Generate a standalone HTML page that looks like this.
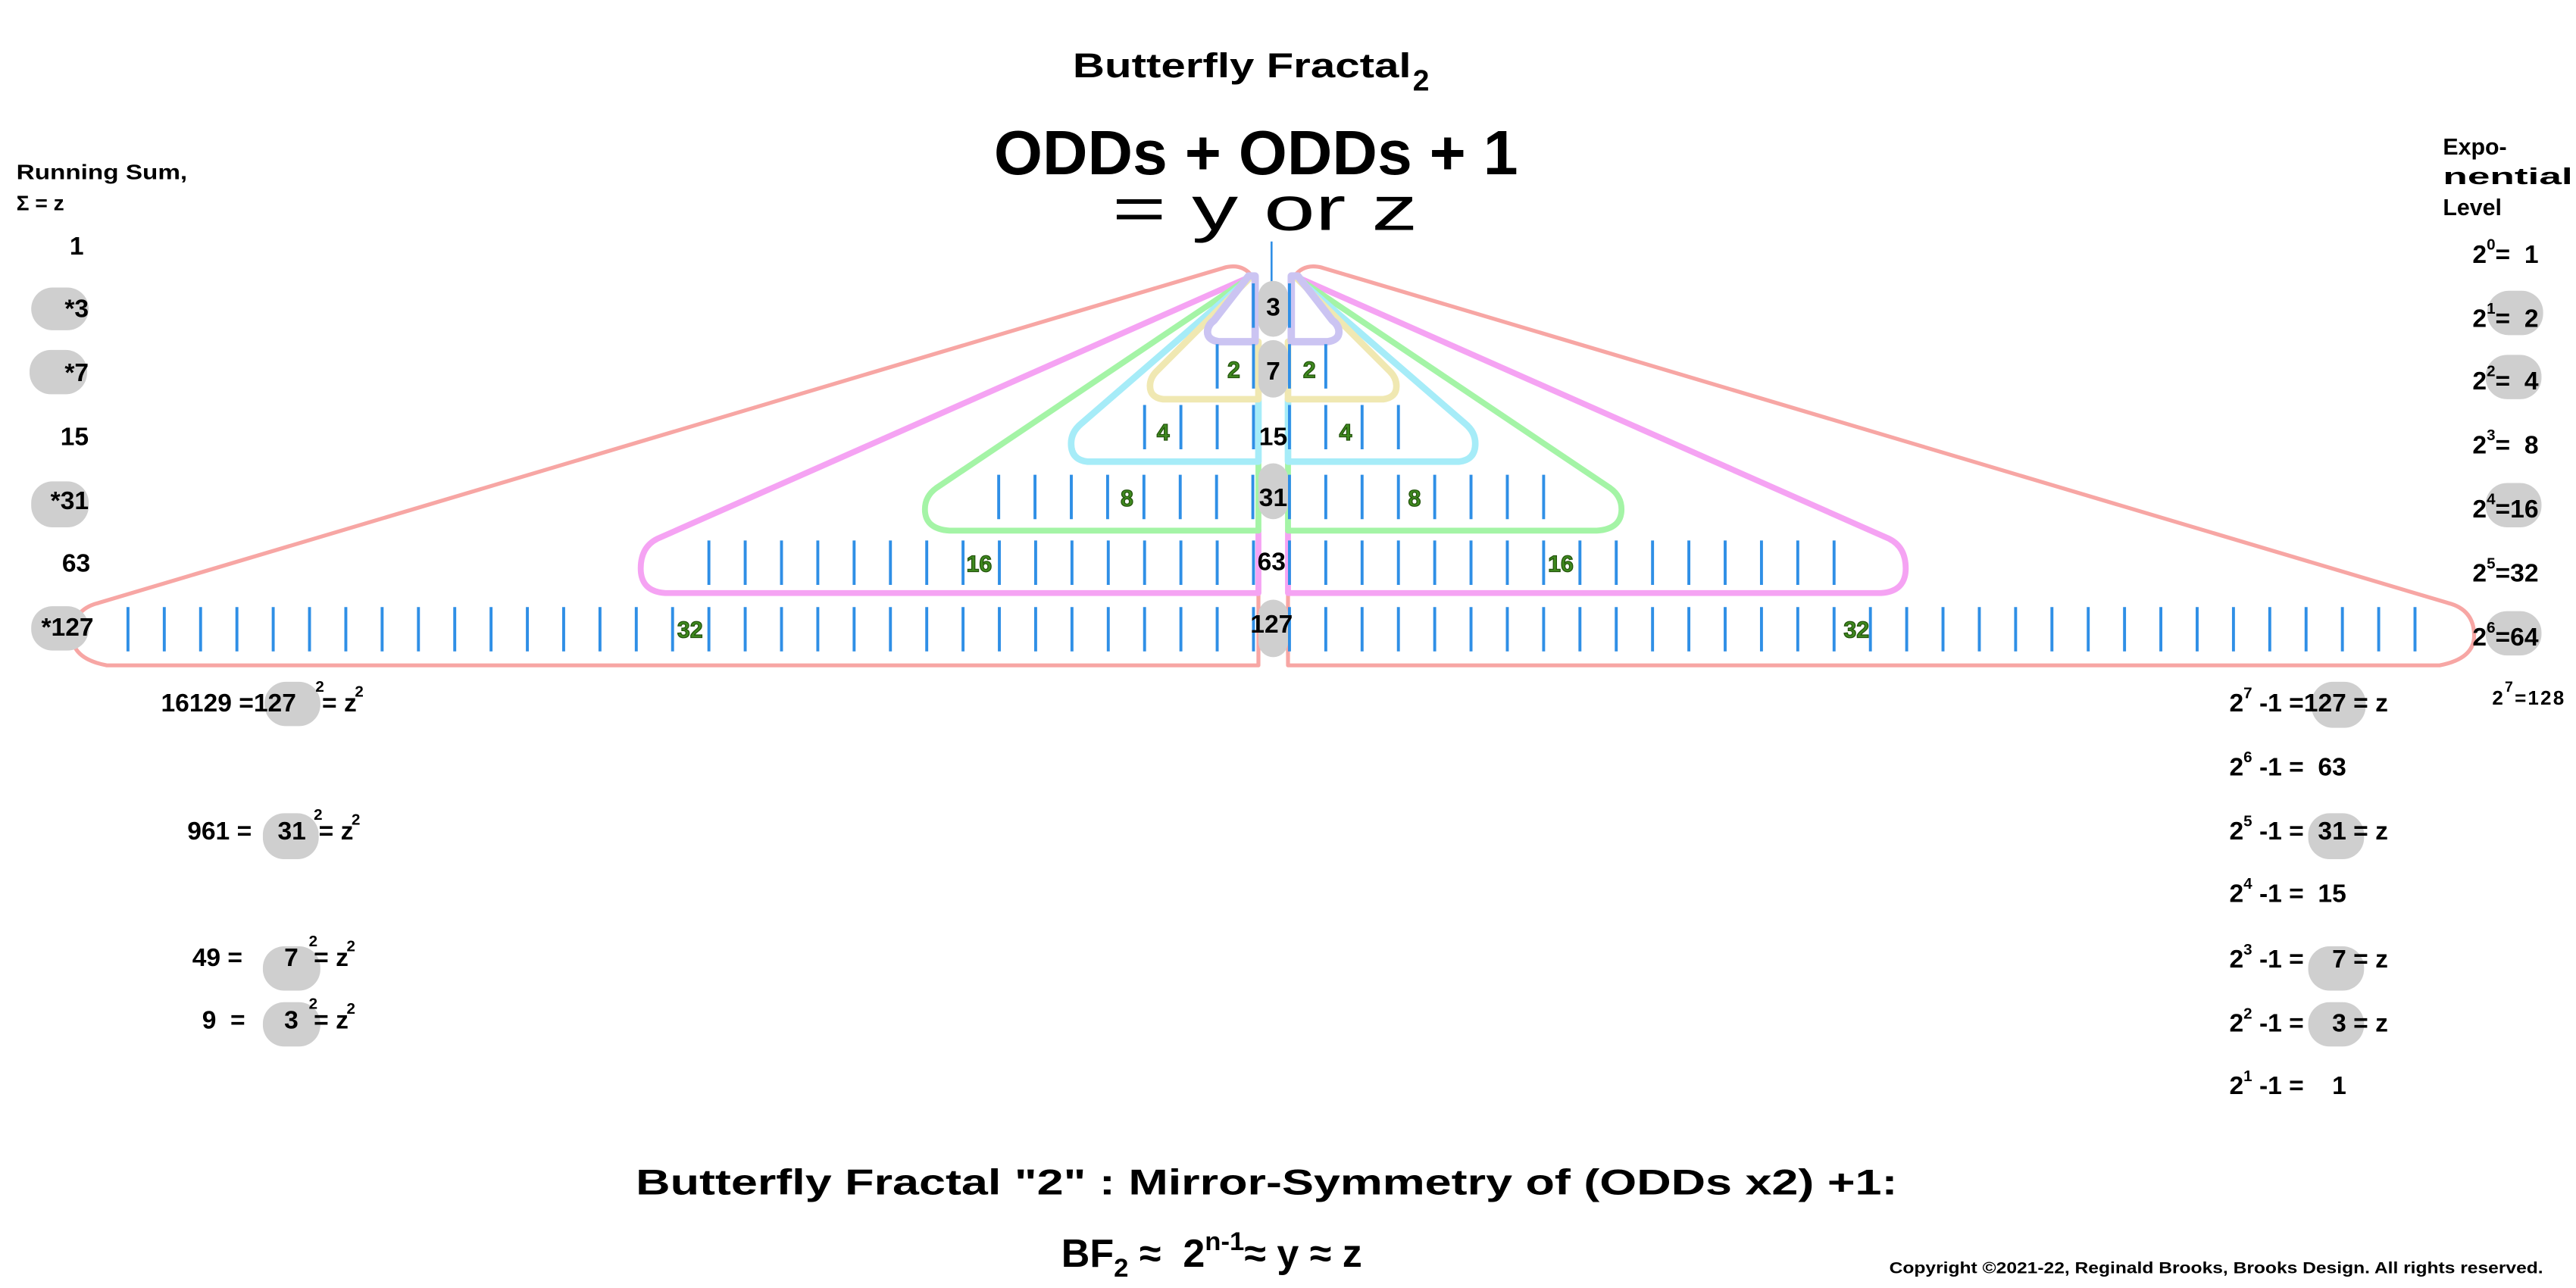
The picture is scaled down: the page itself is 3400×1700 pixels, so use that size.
<!DOCTYPE html>
<html><head><meta charset="utf-8">
<style>
html,body{margin:0;padding:0;background:#fff;}
svg{display:block;}
text{font-family:"Liberation Sans",Arial,sans-serif;font-weight:bold;fill:#000;}
.g{fill:#3f8a1f;stroke:#24540d;stroke-width:0.6;font-size:14px;}
.n{font-size:15.5px;}
.sup{font-size:9.5px;}
</style></head>
<body>
<svg width="3400" height="1700" viewBox="0 0 1568 784" xmlns="http://www.w3.org/2000/svg">
<rect width="1568" height="784" fill="#fff"/>

<!-- titles -->
<text x="653" y="47" font-size="21" textLength="206" lengthAdjust="spacingAndGlyphs">Butterfly Fractal</text>
<text x="860" y="55" font-size="18">2</text>
<text x="605" y="106" font-size="38" textLength="319" lengthAdjust="spacingAndGlyphs">ODDs + ODDs + 1</text>
<text x="677" y="140" font-size="38" style="font-weight:normal" textLength="186" lengthAdjust="spacingAndGlyphs">= y or z</text>

<line x1="774" y1="147" x2="774" y2="172" stroke="#2f8fe6" stroke-width="1.2"/>

<!-- shapes -->
<g fill="none" stroke-linejoin="round" stroke-linecap="round">
 <g id="L">
  <path d="M766,361 L766,405 L65,405 Q44,401 44,387 Q44,371 60,367 L745,163 Q756,160 762,168" stroke="#f7a6a4" stroke-width="2.4"/>
  <path d="M766,323 L766,361 L405,361 Q390,360 390,346 Q390,333 400,328 L762,168" stroke="#f5a3f3" stroke-width="3.6"/>
  <path d="M766,281 L766,323 L578,323 Q563,322 563,310 Q563,302 570,297 L762,168" stroke="#a4f4a6" stroke-width="3.6"/>
  <path d="M766,243 L766,281 L662,281 Q652,280 652,270 Q652,263 658,258 L762,168" stroke="#a6ecf8" stroke-width="4"/>
  <path d="M766,208 L766,243 L708,243 Q700,242 700,235 Q700,230 704,226 L762,168" stroke="#f0e8b2" stroke-width="4"/>
  <path d="M764,168 L764,208 L742,208 Q735,207 735,202 Q735,198 739,195 L760,168 Z" stroke="#cbc4f2" stroke-width="4.5"/>
 </g>
 <use href="#L" transform="translate(1550,0) scale(-1,1)"/>
</g>

<!-- ticks -->
<g stroke="#2f8fe6" stroke-width="27" stroke-dasharray="1.8 20.3">
 <line x1="77" y1="383" x2="765" y2="383"/>
 <line x1="784" y1="383" x2="1475" y2="383"/>
 <line x1="430.6" y1="342.5" x2="765" y2="342.5"/>
 <line x1="784" y1="342.5" x2="1120" y2="342.5"/>
 <line x1="607" y1="302.5" x2="765" y2="302.5"/>
 <line x1="784" y1="302.5" x2="942" y2="302.5"/>
 <line x1="695.8" y1="260" x2="765" y2="260"/>
 <line x1="784" y1="260" x2="853" y2="260"/>
 <line x1="740" y1="223" x2="765" y2="223"/>
 <line x1="784" y1="223" x2="809" y2="223"/>
 <line x1="762" y1="186" x2="765" y2="186"/>
 <line x1="784" y1="186" x2="787" y2="186"/>
</g>

<!-- center pills -->
<g fill="#cfcfcf">
 <rect x="766" y="171" width="18" height="34" rx="9"/>
 <rect x="766" y="207" width="18" height="35" rx="9"/>
 <rect x="766" y="282" width="18" height="34" rx="9"/>
 <rect x="766" y="365" width="18" height="35" rx="9"/>
</g>
<g class="n" text-anchor="middle">
 <text x="775" y="192">3</text>
 <text x="775" y="231">7</text>
 <text x="775" y="271">15</text>
 <text x="775" y="308">31</text>
 <text x="774" y="347">63</text>
 <text x="774" y="385">127</text>
</g>

<!-- green labels -->
<g text-anchor="middle">
 <text class="g" x="751" y="230">2</text>
 <text class="g" x="797" y="230">2</text>
 <text class="g" x="708" y="268">4</text>
 <text class="g" x="819" y="268">4</text>
 <text class="g" x="686" y="308">8</text>
 <text class="g" x="861" y="308">8</text>
 <text class="g" x="596" y="348">16</text>
 <text class="g" x="950" y="348">16</text>
 <text class="g" x="420" y="388">32</text>
 <text class="g" x="1130" y="388">32</text>
</g>

<!-- left column -->
<text x="10" y="109" font-size="13" textLength="104" lengthAdjust="spacingAndGlyphs">Running Sum,</text>
<text x="10" y="128" font-size="13">Σ = z</text>
<g fill="#cfcfcf">
 <rect x="19" y="175" width="35" height="26" rx="13"/>
 <rect x="18" y="213" width="35" height="27" rx="13"/>
 <rect x="19" y="293" width="35" height="28" rx="13"/>
 <rect x="19" y="369" width="35" height="27" rx="13"/>
</g>
<g class="n" text-anchor="end">
 <text x="51" y="155">1</text>
 <text x="54" y="193">*3</text>
 <text x="54" y="232">*7</text>
 <text x="54" y="271">15</text>
 <text x="54" y="310">*31</text>
 <text x="55" y="348">63</text>
 <text x="57" y="387">*127</text>
</g>

<!-- right column -->
<text x="1487" y="94" font-size="14">Expo-</text>
<text x="1487" y="112" font-size="14" textLength="79" lengthAdjust="spacingAndGlyphs">nential</text>
<text x="1487" y="131" font-size="14">Level</text>
<g fill="#cfcfcf">
 <rect x="1514" y="177" width="34" height="27" rx="13"/>
 <rect x="1513" y="216" width="34" height="27" rx="13"/>
 <rect x="1513" y="294" width="34" height="27" rx="13"/>
 <rect x="1513" y="372" width="34" height="27" rx="13"/>
</g>
<g class="n">
 <text x="1505" y="160">2<tspan class="sup" dy="-8">0</tspan><tspan dy="8">= &#160;1</tspan></text>
 <text x="1505" y="199">2<tspan class="sup" dy="-8">1</tspan><tspan dy="8">= &#160;2</tspan></text>
 <text x="1505" y="237">2<tspan class="sup" dy="-8">2</tspan><tspan dy="8">= &#160;4</tspan></text>
 <text x="1505" y="276">2<tspan class="sup" dy="-8">3</tspan><tspan dy="8">= &#160;8</tspan></text>
 <text x="1505" y="315">2<tspan class="sup" dy="-8">4</tspan><tspan dy="8">=16</tspan></text>
 <text x="1505" y="354">2<tspan class="sup" dy="-8">5</tspan><tspan dy="8">=32</tspan></text>
 <text x="1505" y="393">2<tspan class="sup" dy="-8">6</tspan><tspan dy="8">=64</tspan></text>
</g>
<text x="1517" y="429" font-size="12" letter-spacing="1">2<tspan font-size="9" dy="-8">7</tspan><tspan dy="8">=128</tspan></text>

<!-- bottom-left -->
<g fill="#cfcfcf">
 <rect x="161" y="415" width="34" height="27" rx="13"/>
 <rect x="160" y="495" width="34" height="28" rx="13"/>
 <rect x="160" y="576" width="35" height="27" rx="13"/>
 <rect x="160" y="610" width="35" height="27" rx="13"/>
</g>
<g class="n">
 <text x="98" y="433">16129 =127</text>
 <text x="192" y="421" class="sup">2</text>
 <text x="196" y="433">= z</text>
 <text x="216" y="424" class="sup">2</text>

 <text x="114" y="511">961 =</text>
 <text x="169" y="511">31</text>
 <text x="191" y="499" class="sup">2</text>
 <text x="194" y="511">= z</text>
 <text x="214" y="502" class="sup">2</text>

 <text x="117" y="588">49 =</text>
 <text x="173" y="588">7</text>
 <text x="188" y="576" class="sup">2</text>
 <text x="191" y="588">= z</text>
 <text x="211" y="579" class="sup">2</text>

 <text x="123" y="626">9 &#160;=</text>
 <text x="173" y="626">3</text>
 <text x="188" y="614" class="sup">2</text>
 <text x="191" y="626">= z</text>
 <text x="211" y="617" class="sup">2</text>
</g>

<!-- bottom-right -->
<g fill="#cfcfcf">
 <rect x="1407" y="415" width="33" height="28" rx="13"/>
 <rect x="1405" y="495" width="34" height="28" rx="13"/>
 <rect x="1405" y="576" width="34" height="27" rx="13"/>
 <rect x="1405" y="610" width="34" height="27" rx="13"/>
</g>
<g class="n">
 <text x="1357" y="433">2<tspan class="sup" dy="-8">7</tspan><tspan dy="8"> -1 =127 = z</tspan></text>
 <text x="1357" y="472">2<tspan class="sup" dy="-8">6</tspan><tspan dy="8"> -1 = &#160;63</tspan></text>
 <text x="1357" y="511">2<tspan class="sup" dy="-8">5</tspan><tspan dy="8"> -1 = &#160;31 = z</tspan></text>
 <text x="1357" y="549">2<tspan class="sup" dy="-8">4</tspan><tspan dy="8"> -1 = &#160;15</tspan></text>
 <text x="1357" y="589">2<tspan class="sup" dy="-8">3</tspan><tspan dy="8"> -1 = &#160; &#160;7 = z</tspan></text>
 <text x="1357" y="628">2<tspan class="sup" dy="-8">2</tspan><tspan dy="8"> -1 = &#160; &#160;3 = z</tspan></text>
 <text x="1357" y="666">2<tspan class="sup" dy="-8">1</tspan><tspan dy="8"> -1 = &#160; &#160;1</tspan></text>
</g>

<!-- bottom text -->
<text x="387" y="727" font-size="22" textLength="768" lengthAdjust="spacingAndGlyphs">Butterfly Fractal "2" :  Mirror-Symmetry of (ODDs x2) +1:</text>
<text x="646" y="771" font-size="24">BF<tspan font-size="16" dy="6">2</tspan><tspan dy="-6"> ≈ &#160;2</tspan><tspan font-size="16" dy="-10">n-1</tspan><tspan dy="10">≈ y ≈ z</tspan></text>
<text x="1150" y="775" font-size="10" textLength="398" lengthAdjust="spacingAndGlyphs">Copyright ©2021-22, Reginald Brooks, Brooks Design. All rights reserved.</text>
</svg>
</body></html>
